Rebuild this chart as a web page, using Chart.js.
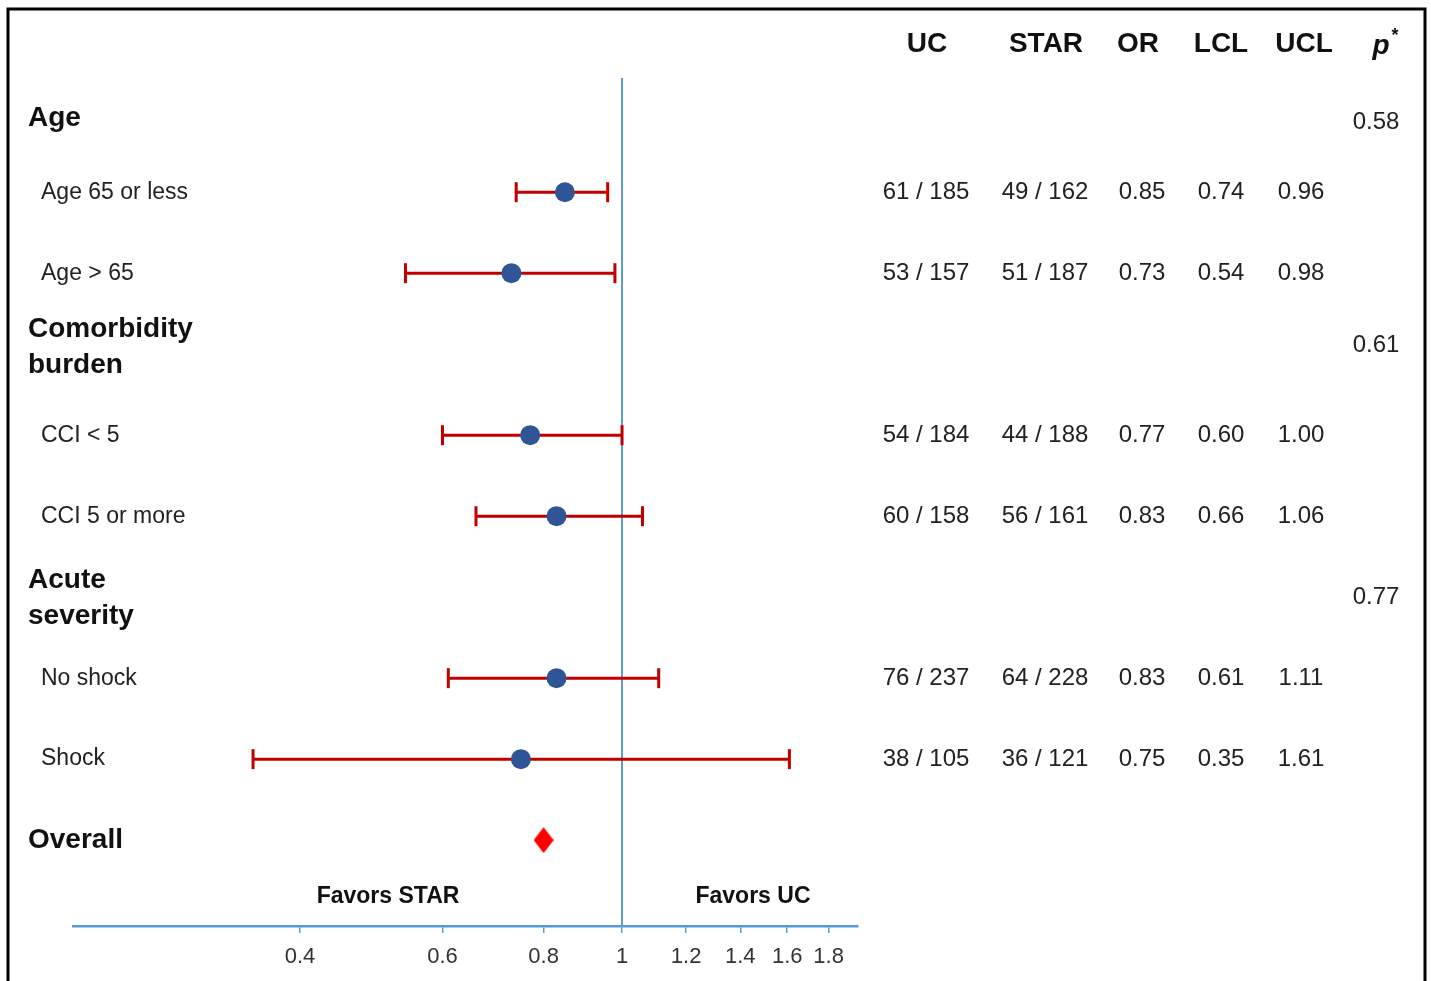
<!DOCTYPE html>
<html>
<head>
<meta charset="utf-8">
<title>Forest plot</title>
<script src="https://cdn.jsdelivr.net/npm/chart.js@4.4.1/dist/chart.umd.min.js"></script>
<style>
  html, body { margin: 0; padding: 0; background: #fff; }
  #wrap { width: 1431px; height: 981px; }
</style>
</head>
<body>
<div id="wrap"><canvas id="forest" width="1431" height="981"></canvas></div>
<script>
// rows are numbered top to bottom
const headerNames = ["Age", "Comorbidity\nburden", "Acute\nseverity", "Overall"];
const headerRows = [0, 3, 6, 9];
const pInteraction = ["0.58", "0.61", "0.77", ""];

const subgroupNames = ["Age 65 or less", "Age > 65", "CCI < 5", "CCI 5 or more", "No shock", "Shock"];
const subgroupRows = [1, 2, 4, 5, 7, 8];
const ucEvents = ["61 / 185", "53 / 157", "54 / 184", "60 / 158", "76 / 237", "38 / 105"];
const starEvents = ["49 / 162", "51 / 187", "44 / 188", "56 / 161", "64 / 228", "36 / 121"];
const oddsRatio = [0.85, 0.73, 0.77, 0.83, 0.83, 0.75];
const lowerCL = [0.74, 0.54, 0.60, 0.66, 0.61, 0.35];
const upperCL = [0.96, 0.98, 1.00, 1.06, 1.11, 1.61];

const overallOR = 0.80;
const overallRow = 9;

const columnTitles = ["UC", "STAR", "OR", "LCL", "UCL"];
const xTicks = [0.4, 0.6, 0.8, 1, 1.2, 1.4, 1.6, 1.8];
const favorLabels = ["Favors STAR", "Favors UC"];

// layout / styling
const colX = [926, 1045, 1142, 1221, 1301];
const titleX = [927, 1046, 1138, 1221, 1304];
const pX = 1376;
const headerNudge = [7, -7, 1, 0];
const pNudge = [11, -9, 0, 0];
const BLUE_LINE = "#5b9bd5";
const RED = "#c00000";
const DOT = "#2f5597";
const FONT = "'Liberation Sans', Arial, sans-serif";

// diamond marker for the overall estimate
const diamond = document.createElement("canvas");
diamond.width = 20; diamond.height = 26;
(function () {
  const c = diamond.getContext("2d");
  c.fillStyle = "#ff0000";
  c.beginPath();
  c.moveTo(10, 0); c.lineTo(20, 13); c.lineTo(10, 26); c.lineTo(0, 13);
  c.closePath(); c.fill();
})();

const ciSets = subgroupRows.map((row, i) => ({
  type: "scatter",
  showLine: true,
  data: [{ x: lowerCL[i], y: row }, { x: upperCL[i], y: row }],
  borderColor: RED,
  borderWidth: 3,
  pointStyle: "line",
  pointRotation: 90,
  pointRadius: 10,
  pointBorderWidth: 3,
  pointBorderColor: RED,
  order: 2
}));

const textPlugin = {
  id: "forestText",
  afterDraw(chart) {
    const ctx = chart.ctx;
    const y = chart.scales.y;
    ctx.save();

    // frame
    ctx.strokeStyle = "#000";
    ctx.lineWidth = 3;
    ctx.strokeRect(8, 9, 1417, 1000);

    ctx.textBaseline = "middle";
    ctx.fillStyle = "#111";

    // column titles
    ctx.font = "bold 28px " + FONT;
    ctx.textAlign = "center";
    columnTitles.forEach((t, i) => ctx.fillText(t, titleX[i], 44));
    ctx.font = "italic bold 28px " + FONT;
    ctx.fillText("p", 1381, 46);
    ctx.font = "bold 18px " + FONT;
    ctx.fillText("*", 1395, 36);

    // group headers and p values
    headerNames.forEach((name, i) => {
      const base = y.getPixelForValue(headerRows[i]);
      const py = base + headerNudge[i];
      const lines = name.split("\n");
      ctx.font = "bold 28px " + FONT;
      ctx.textAlign = "left";
      ctx.fillStyle = "#111";
      lines.forEach((ln, k) => ctx.fillText(ln, 28, py + (k - (lines.length - 1) / 2) * 36));
      if (pInteraction[i]) {
        ctx.font = "24px " + FONT;
        ctx.textAlign = "center";
        ctx.fillStyle = "#222";
        ctx.fillText(pInteraction[i], pX, base + pNudge[i]);
      }
    });

    // subgroup rows
    subgroupNames.forEach((name, i) => {
      const py = y.getPixelForValue(subgroupRows[i]);
      ctx.fillStyle = "#222";
      ctx.font = "23px " + FONT;
      ctx.textAlign = "left";
      ctx.fillText(name, 41, py);
      ctx.font = "24px " + FONT;
      ctx.textAlign = "center";
      const cells = [ucEvents[i], starEvents[i], oddsRatio[i].toFixed(2), lowerCL[i].toFixed(2), upperCL[i].toFixed(2)];
      cells.forEach((c, k) => ctx.fillText(c, colX[k], py));
    });

    // favours labels
    ctx.font = "bold 23px " + FONT;
    ctx.textAlign = "center";
    ctx.fillStyle = "#111";
    ctx.fillText(favorLabels[0], 388, 897);
    ctx.fillText(favorLabels[1], 753, 897);
    ctx.restore();
  }
};

new Chart(document.getElementById("forest"), {
  type: "scatter",
  data: {
    datasets: [
      {
        data: subgroupRows.map((row, i) => ({ x: oddsRatio[i], y: row })),
        backgroundColor: DOT,
        borderColor: DOT,
        pointRadius: 10,
        pointBorderWidth: 0,
        order: 0
      },
      {
        data: [{ x: overallOR, y: overallRow }],
        pointStyle: diamond,
        order: 0
      },
      ...ciSets,
      {
        type: "scatter",
        showLine: true,
        data: [{ x: 1, y: -0.41 }, { x: 1, y: 10.06 }],
        borderColor: BLUE_LINE,
        borderWidth: 2,
        pointRadius: 0,
        order: 3
      }
    ]
  },
  options: {
    responsive: false,
    animation: false,
    layout: { padding: { left: 73, right: 573, top: 78, bottom: 0 } },
    plugins: { legend: { display: false }, tooltip: { enabled: false } },
    scales: {
      x: {
        type: "logarithmic",
        min: 0.2097,
        max: 1.957,
        afterBuildTicks: (scale) => { scale.ticks = xTicks.map(v => ({ value: v })); },
        afterFit: (scale) => { scale.height = 55; },
        ticks: {
          autoSkip: false,
          maxRotation: 0,
          padding: 11,
          color: "#333",
          font: { family: FONT, size: 22 },
          callback: (v) => String(v)
        },
        grid: { drawOnChartArea: false, tickLength: 7, color: BLUE_LINE, lineWidth: 1.5 },
        border: { color: BLUE_LINE, width: 2.5 }
      },
      y: {
        type: "linear",
        display: false,
        reverse: true,
        min: -0.41,
        max: 10.06
      }
    }
  },
  plugins: [textPlugin]
});
</script>
</body>
</html>
